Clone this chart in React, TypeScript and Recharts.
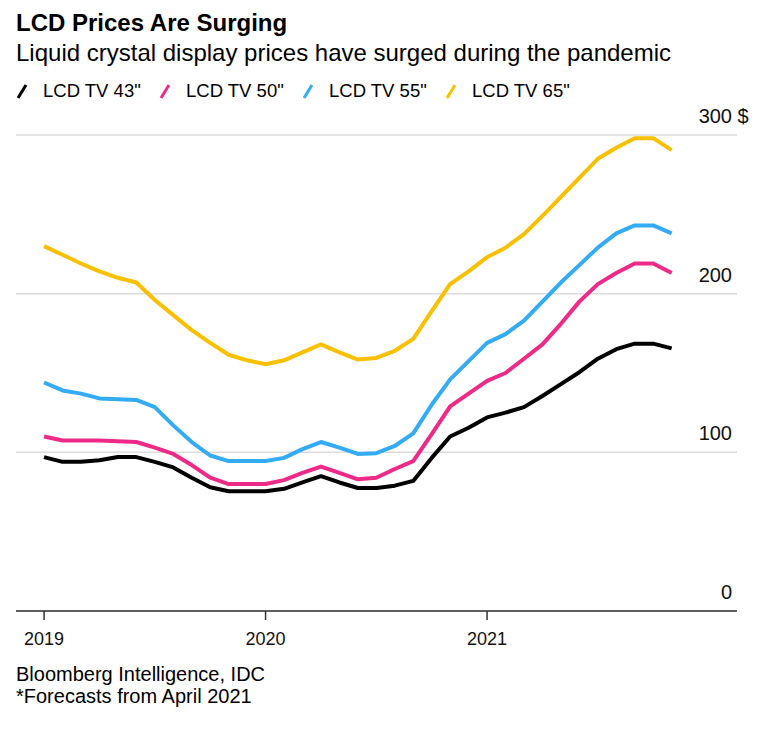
import React from 'react';
import { LineChart, Line, XAxis, YAxis, CartesianGrid } from 'recharts';

// Monthly categories, Jan 2019 .. Nov 2021
const months = [
  '2019-01', '2019-02', '2019-03', '2019-04', '2019-05', '2019-06', '2019-07', '2019-08', '2019-09', '2019-10', '2019-11', '2019-12',
  '2020-01', '2020-02', '2020-03', '2020-04', '2020-05', '2020-06', '2020-07', '2020-08', '2020-09', '2020-10', '2020-11', '2020-12',
  '2021-01', '2021-02', '2021-03', '2021-04', '2021-05', '2021-06', '2021-07', '2021-08', '2021-09', '2021-10', '2021-11',
];

const tv43 = [97, 94, 94, 95, 97, 97, 94, 90.5, 84, 78, 75.5, 75.5, 75.5, 77, 81, 85, 81, 77.5, 77.5, 79, 82, 96.5, 110, 115.5, 122, 125, 128.5, 135.5, 143, 150.5, 159, 165, 168.5, 168.5, 165.5];
const tv50 = [110, 107.5, 107.5, 107.5, 107, 106.5, 103, 99, 92, 84, 80, 80, 80, 82.5, 87, 91, 87, 83, 84, 89.5, 94.5, 111.5, 129, 137, 145, 150, 159, 168, 181, 195, 206, 213, 219, 219, 213];
const tv55 = [144, 139, 137, 134, 133.5, 133, 128.5, 117, 106.5, 98, 94.5, 94.5, 94.5, 96.5, 102, 106.5, 103, 99, 99.5, 104, 112, 130, 146, 157.5, 169, 174.5, 183, 195, 207, 218, 229, 238, 243, 243, 238];
const tv65 = [230, 224.5, 219, 214, 210, 207, 196, 186.5, 177, 169, 161.5, 158, 155.5, 158, 163, 168, 163, 158.5, 159.5, 164, 171.5, 189, 206, 214, 223, 229, 237.5, 249, 261, 273, 285, 292, 298, 298, 290.5];

const yearTicks = [0, 12, 24];
const yearLabels = ['2019', '2020', '2021'];
const priceTicks = [0, 100, 200, 300];
const sourceLines = ['Bloomberg Intelligence, IDC', '*Forecasts from April 2021'];

const seriesKeys = ['tv43', 'tv50', 'tv55', 'tv65'];
const seriesNames = ['LCD TV 43"', 'LCD TV 50"', 'LCD TV 55"', 'LCD TV 65"'];
const seriesColors = ['#000000', '#ee2a88', '#33abf5', '#f8c000'];

const seriesValues = [tv43, tv50, tv55, tv65];

const data = months.map((label, i) => {
  const row: any = { m: i, label };
  seriesKeys.forEach((k, s) => {
    row[k] = seriesValues[s][i];
  });
  return row;
});

const FONT = '"Liberation Sans", Arial, Helvetica, sans-serif';

const YTick = (props: any) => {
  const { y, payload } = props;
  const x = 737;
  const v = payload.value;
  return (
    <g>
      <text x={x - 5} y={y - 12} textAnchor="end" fontSize={20} fill="#111" fontFamily={FONT}>
        {v}
      </text>
      {v === 300 && (
        <text x={x + 0.6} y={y - 12} textAnchor="start" fontSize={20} fill="#111" fontFamily={FONT}>
          $
        </text>
      )}
    </g>
  );
};

const XTick = (props: any) => {
  const { x, y, payload } = props;
  const idx = yearTicks.indexOf(payload.value);
  return (
    <text x={x} y={y + 25} textAnchor="middle" fontSize={18} fill="#111" fontFamily={FONT}>
      {idx >= 0 ? yearLabels[idx] : ''}
    </text>
  );
};

export default function App() {
  return (
    <div style={{ position: 'absolute', left: 0, top: 0, width: 760, height: 740, background: '#fff', fontFamily: FONT, color: '#000' }}>
      <div style={{ position: 'absolute', left: 16, top: 10.5, fontSize: 24, fontWeight: 700, lineHeight: 1, whiteSpace: 'nowrap' }}>
        LCD Prices Are Surging
      </div>
      <div style={{ position: 'absolute', left: 16, top: 40.5, fontSize: 24, lineHeight: 1, whiteSpace: 'nowrap' }}>
        Liquid crystal display prices have surged during the pandemic
      </div>
      {seriesNames.map((name, i) => (
        <div key={name} style={{ position: 'absolute', left: 16 + i * 143, top: 81.5, height: 20, display: 'flex', alignItems: 'flex-start', whiteSpace: 'nowrap' }}>
          <svg width={14} height={20} style={{ display: 'block', marginTop: 0 }}>
            <line x1={2} y1={16} x2={10} y2={3} stroke={seriesColors[i]} strokeWidth={3} />
          </svg>
          <span style={{ marginLeft: 13, fontSize: 18.5, lineHeight: 1 }}>{name}</span>
        </div>
      ))}
      <div style={{ position: 'absolute', left: 0, top: 0 }}>
        <LineChart width={760} height={740} data={data} margin={{ top: 135, right: 22, left: 16, bottom: 89 }}>
          <CartesianGrid vertical={false} stroke="#dcdcdc" strokeWidth={1.5} />
          <XAxis
            dataKey="m"
            type="number"
            domain={[-1.52, 37.54]}
            ticks={yearTicks}
            height={40}
            interval={0}
            allowDataOverflow
            axisLine={{ stroke: '#333', strokeWidth: 1.5 }}
            tickLine={{ stroke: '#333', strokeWidth: 1.5 }}
            tickSize={9}
            tickMargin={0}
            tick={<XTick />}
          />
          <YAxis
            orientation="right"
            width={1}
            domain={[0, 300]}
            ticks={priceTicks}
            axisLine={false}
            tickLine={false}
            tickSize={0}
            tickMargin={0}
            tick={<YTick />}
            interval={0}
          />
          {seriesKeys.map((k, i) => (
            <Line
              key={k}
              type="linear"
              dataKey={k}
              stroke={seriesColors[i]}
              strokeWidth={4}
              dot={false}
              activeDot={false}
              isAnimationActive={false}
              strokeLinejoin="round"
            />
          ))}
        </LineChart>
      </div>
      {sourceLines.map((t, i) => (
        <div key={t} style={{ position: 'absolute', left: 16, top: 664 + i * 22, fontSize: 20, lineHeight: 1, whiteSpace: 'nowrap' }}>
          {t}
        </div>
      ))}
    </div>
  );
}
